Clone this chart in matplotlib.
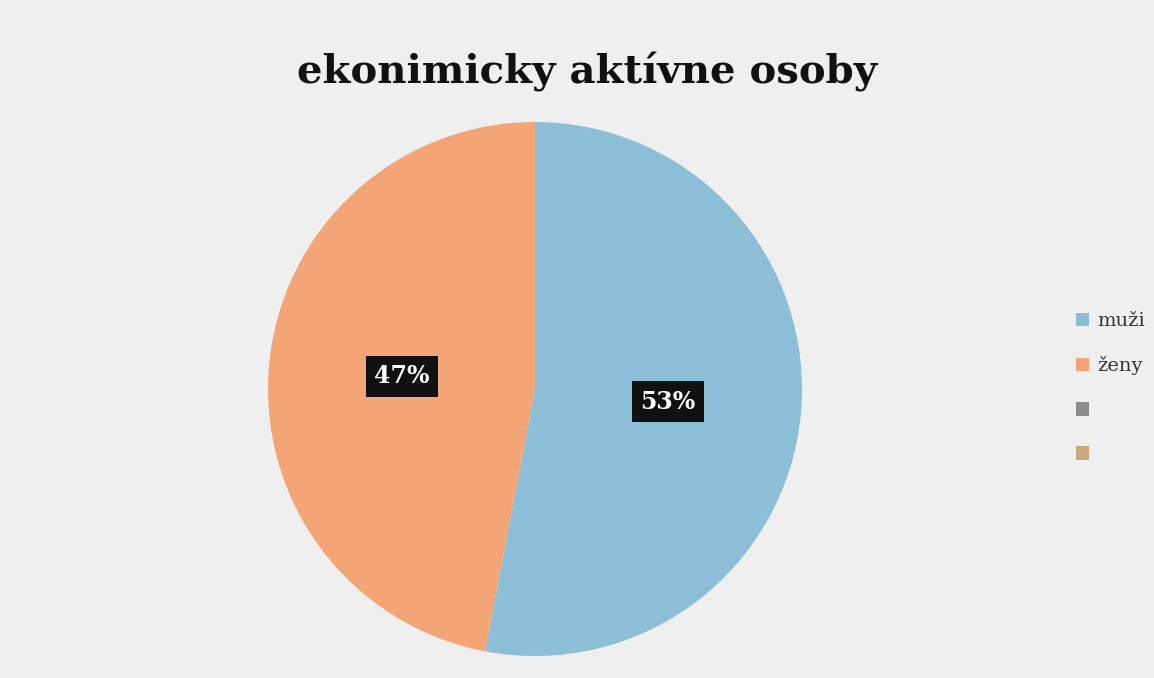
import matplotlib.pyplot as plt
from matplotlib.patches import Patch

labels = ['muži', 'ženy', '', '']
values = [53, 47, 0, 0]
colors = ['#8cbfd7', '#f4a575', '#8c8c8c', '#caa87c']

W, H = 1154, 678
fig = plt.figure(figsize=(W / 100, H / 100), dpi=100)
fig.patch.set_facecolor('#efefef')

# pie area in pixels: centre (535, 389), radius 267
ax = fig.add_axes([(535 - 267) / W, (H - 389 - 267) / H, 534 / W, 534 / H])
ax.set_facecolor('none')


def fmt(p):
    return '%d%%' % round(p) if p > 0 else ''


wedges, texts, autotexts = ax.pie(values, colors=colors, startangle=90, counterclock=False,
                                  autopct=fmt, pctdistance=0.5, radius=1)
for t in autotexts:
    t.set_color('white')
    t.set_fontsize(17)
    t.set_fontweight('bold')
    t.set_family('DejaVu Serif')
    t.set_bbox(dict(boxstyle='square,pad=0.35', facecolor='#111111', edgecolor='none'))
ax.set_xlim(-1, 1)
ax.set_ylim(-1, 1)
ax.set_aspect('equal')

fig.text(587 / W, 1 - 72 / H, 'ekonimicky aktívne osoby', ha='center', va='center',
         fontsize=29, fontweight='bold', family='DejaVu Serif', color='#111111')

handles = [Patch(facecolor=c, edgecolor='none') for c in colors]
leg = fig.legend(handles, labels, loc='center left', bbox_to_anchor=(1058 / W, 1 - 388 / H),
                 frameon=False, handlelength=0.7, handleheight=0.7, handletextpad=0.4,
                 labelspacing=1.35, prop={'family': 'DejaVu Serif', 'size': 14})
for t in leg.get_texts():
    t.set_color('#333333')

fig.savefig('out.png', dpi=100, facecolor=fig.get_facecolor())
